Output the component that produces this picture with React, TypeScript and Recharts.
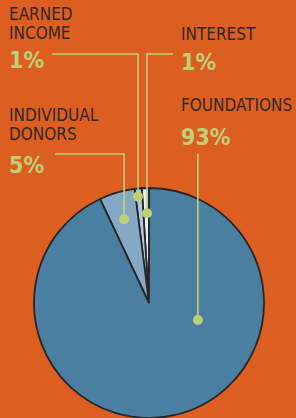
import React from 'react';
import { PieChart, Pie, Cell } from 'recharts';

const categories = ['Interest', 'Earned Income', 'Individual Donors', 'Foundations'];
const shares = [1, 1, 5, 93];
const labelLines = [['INTEREST'], ['EARNED', 'INCOME'], ['INDIVIDUAL', 'DONORS'], ['FOUNDATIONS']];
const percentLabels = ['1%', '1%', '5%', '93%'];

const data = categories.map((name, i) => ({ name, value: shares[i] }));

const sliceColors = ['#EBF0F4', '#AFC8DA', '#85A9C4', '#4A7FA1'];
const BG = '#DC5E21';
const DARK = '#2F2925';
const GREEN = '#C0D077';
const RAD = Math.PI / 180;

// layout of each annotation (position of dot inside slice, leader line, text block)
const layout = [
  { angleFrac: 0.36, radiusFrac: 0.78, elbowY: 54, lineEndX: 173, textX: 181, lineY: [40], pctY: 70 },
  { angleFrac: 0.64, radiusFrac: 0.93, elbowY: 54, lineEndX: 52, textX: 9, lineY: [19.5, 39], pctY: 68 },
  { angleFrac: 0.52, radiusFrac: 0.76, elbowY: 154, lineEndX: 55, textX: 9, lineY: [121, 140], pctY: 173 },
  { angleFrac: 0.674, radiusFrac: 0.45, elbowY: 154, lineEndX: null, textX: 181, lineY: [111], pctY: 145 },
];

const renderLabel = (props: any) => {
  const { cx, cy, startAngle, endAngle, outerRadius, index } = props;
  const l = layout[index];
  const ang = startAngle + (endAngle - startAngle) * l.angleFrac;
  const r = outerRadius * l.radiusFrac;
  const dx = cx + r * Math.cos(-ang * RAD);
  const dy = cy + r * Math.sin(-ang * RAD);
  const pts = l.lineEndX === null
    ? `${dx},${l.elbowY} ${dx},${dy}`
    : `${l.lineEndX},${l.elbowY} ${dx},${l.elbowY} ${dx},${dy}`;
  return (
    <g key={`lbl-${index}`}>
      <polyline points={pts} fill="none" stroke={GREEN} strokeWidth={1.6} />
      <circle cx={dx} cy={dy} r={5} fill={GREEN} />
      {labelLines[index].map((t, j) => (
        <text key={j} x={l.textX} y={l.lineY[j]} fill={DARK} fontSize={17}
          fontFamily="'DejaVu Sans Condensed', 'DejaVu Sans', sans-serif" textAnchor="start">{t}</text>
      ))}
      <text x={l.textX} y={l.pctY} fill={GREEN} fontSize={23} fontWeight="bold"
        fontFamily="'DejaVu Sans Condensed', 'DejaVu Sans', sans-serif" textAnchor="start">{percentLabels[index]}</text>
    </g>
  );
};

export default function App() {
  return (
    <div style={{ position: 'absolute', left: 0, top: 0, width: 296, height: 418, background: BG, overflow: 'hidden' }}>
      <PieChart width={296} height={418} margin={{ top: 0, right: 0, bottom: 0, left: 0 }}>
        <Pie
          data={data}
          dataKey="value"
          nameKey="name"
          cx={149}
          cy={303}
          outerRadius={115}
          startAngle={90}
          endAngle={450}
          stroke="#262626"
          strokeWidth={1.8}
          label={renderLabel}
          labelLine={false}
          isAnimationActive={false}
        >
          {data.map((d, i) => (
            <Cell key={d.name} fill={sliceColors[i]} />
          ))}
        </Pie>
      </PieChart>
    </div>
  );
}
